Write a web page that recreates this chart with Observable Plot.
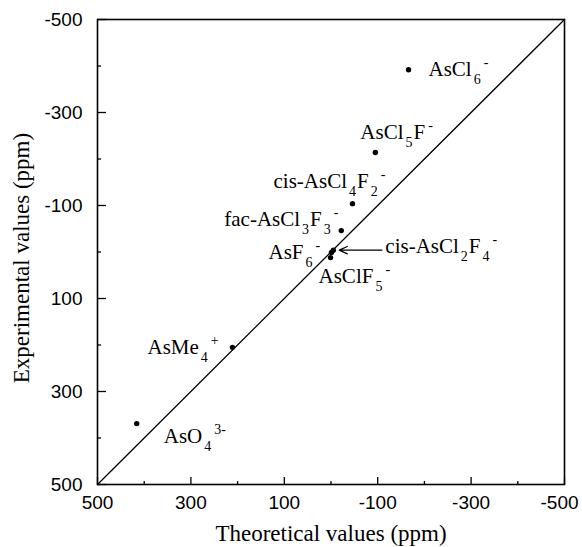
<!DOCTYPE html>
<html><head><meta charset="utf-8">
<script src="https://cdn.jsdelivr.net/npm/d3@7"></script>
<script src="https://cdn.jsdelivr.net/npm/@observablehq/plot@0.6"></script>
<style>body{margin:0;background:#fff}</style>
</head><body><div id="chart"></div>
<script>
// ---- data (ppm) ----
const compounds = ["AsCl_6^-", "AsCl_5F^-", "cis-AsCl_4F_2^-", "fac-AsCl_3F_3^-", "cis-AsCl_2F_4^-", "AsF_6^-", "AsClF_5^-", "AsMe_4^+", "AsO_4^{3-}"];
const theoretical  = [-166, -95, -46, -22, -5, -1, 1, 211, 416];
const experimental = [-392, -214, -104, -46, -4, 1, 12, 205, 369];
const majorTicks = [500, 300, 100, -100, -300, -500];
const minorTicks = [400, 200, 0, -200, -400];
const xTitle = "Theoretical values (ppm)";
const yTitle = "Experimental values (ppm)";
const diagonal = [500, -500];
const arrowTarget = "cis-AsCl_2F_4^-";

// ---- layout (pixel offsets of labels from their points) ----
const labelPlacement = [[20, 0], [-15, -20], [-79, -22], [-117, -11], [52, -4], [-63, 0], [-12, 19], [-85, 0], [27, 13]];

const W = 582, H = 547;
const M = {top: 19, right: 18, bottom: 63, left: 97};
const innerW = W - M.left - M.right;
const innerH = H - M.top - M.bottom;
const serif = "'Liberation Serif', 'Times New Roman', serif";
const sans = "'Liberation Sans', Arial, sans-serif";

const data = compounds.map((name, i) => ({name, theo: theoretical[i], exp: experimental[i]}));
const target = data.find(d => d.name === arrowTarget);
const axisStyle = {tickSize: 0, tickFormat: d => String(d), fontSize: 19, fontFamily: sans, label: null};

const plot = Plot.plot({
  width: W, height: H,
  marginTop: M.top, marginRight: M.right, marginBottom: M.bottom, marginLeft: M.left,
  x: {domain: [500, -500]},
  y: {domain: [500, -500]},
  style: {background: "white", color: "black"},
  marks: [
    Plot.line(diagonal, {x: d => d, y: d => d, stroke: "black", strokeWidth: 1.3}),
    Plot.ruleX(majorTicks, {x: d => d, insetTop: innerH - 7, stroke: "black", strokeWidth: 1.3}),
    Plot.ruleX(minorTicks, {x: d => d, insetTop: innerH - 3, stroke: "black", strokeWidth: 1.3}),
    Plot.ruleY(majorTicks, {y: d => d, insetRight: innerW - 9, stroke: "black", strokeWidth: 1.3}),
    Plot.ruleY(minorTicks, {y: d => d, insetRight: innerW - 4, stroke: "black", strokeWidth: 1.3}),
    Plot.frame({stroke: "black", strokeWidth: 1.6}),
    Plot.axisX(majorTicks.slice(0, -1), {...axisStyle, tickPadding: 11}),
    Plot.axisX(majorTicks.slice(-1), {...axisStyle, tickPadding: 11, dx: -5}),
    Plot.axisY(majorTicks, {...axisStyle, tickPadding: 15}),
    Plot.dot(data, {x: "theo", y: "exp", r: 2.7, fill: "black", stroke: "none"}),
    Plot.arrow([target], {x1: d => d.theo - 104, y1: "exp", x2: "theo", y2: "exp", insetEnd: 6, headAngle: 50, headLength: 11, stroke: "black", strokeWidth: 1.2}),
    ...data.map((d, i) => Plot.text([d], {x: "theo", y: "exp", text: "name", dx: labelPlacement[i][0], dy: labelPlacement[i][1], textAnchor: "start", lineAnchor: "middle", fontSize: 21, fontFamily: serif, fill: "black"})),
    Plot.text([xTitle], {text: d => d, frameAnchor: "bottom", dy: 49, textAnchor: "middle", lineAnchor: "middle", fontSize: 23, fontFamily: serif, fill: "black"}),
    Plot.text([yTitle], {text: d => d, frameAnchor: "left", dx: -76, dy: 6, rotate: -90, textAnchor: "middle", lineAnchor: "middle", fontSize: 23, fontFamily: serif, fill: "black"})
  ]
});

// render chemical formula markup (_ subscript, ^ superscript) as tspans
const SUB = 8, SUP = -9, SCRIPT = 14;
function renderChem(el) {
  const s = el.textContent;
  const segs = [];
  let i = 0, cur = "";
  const push = (t, type) => { if (t) segs.push({t, type}); };
  while (i < s.length) {
    const c = s[i];
    if (c === "_" || c === "^") {
      push(cur, "n"); cur = "";
      let t;
      if (s[i + 1] === "{") { const j = s.indexOf("}", i + 2); t = s.slice(i + 2, j); i = j + 1; }
      else { t = s[i + 1]; i += 2; }
      push(t, c === "_" ? "sub" : "sup");
    } else { cur += c; i++; }
  }
  push(cur, "n");
  el.textContent = "";
  let off = 0, prev = null;
  for (const seg of segs) {
    const tgt = seg.type === "sub" ? SUB : seg.type === "sup" ? SUP : 0;
    const ts = document.createElementNS("http://www.w3.org/2000/svg", "tspan");
    ts.textContent = seg.t;
    ts.setAttribute("dy", tgt - off);
    ts.setAttribute("fill", "black");
    if (seg.type !== "n") ts.setAttribute("font-size", SCRIPT);
    if (seg.type === "sup") ts.setAttribute("dx", 3);
    else if (seg.type === "sub") ts.setAttribute("dx", 2);
    else if (prev) ts.setAttribute("dx", 1);
    off = tgt;
    prev = seg;
    el.appendChild(ts);
  }
}
plot.querySelectorAll("text").forEach(t => {
  if (/[_^]/.test(t.textContent) && t.children.length === 0) renderChem(t);
});
document.getElementById("chart").appendChild(plot);
</script>
</body></html>
